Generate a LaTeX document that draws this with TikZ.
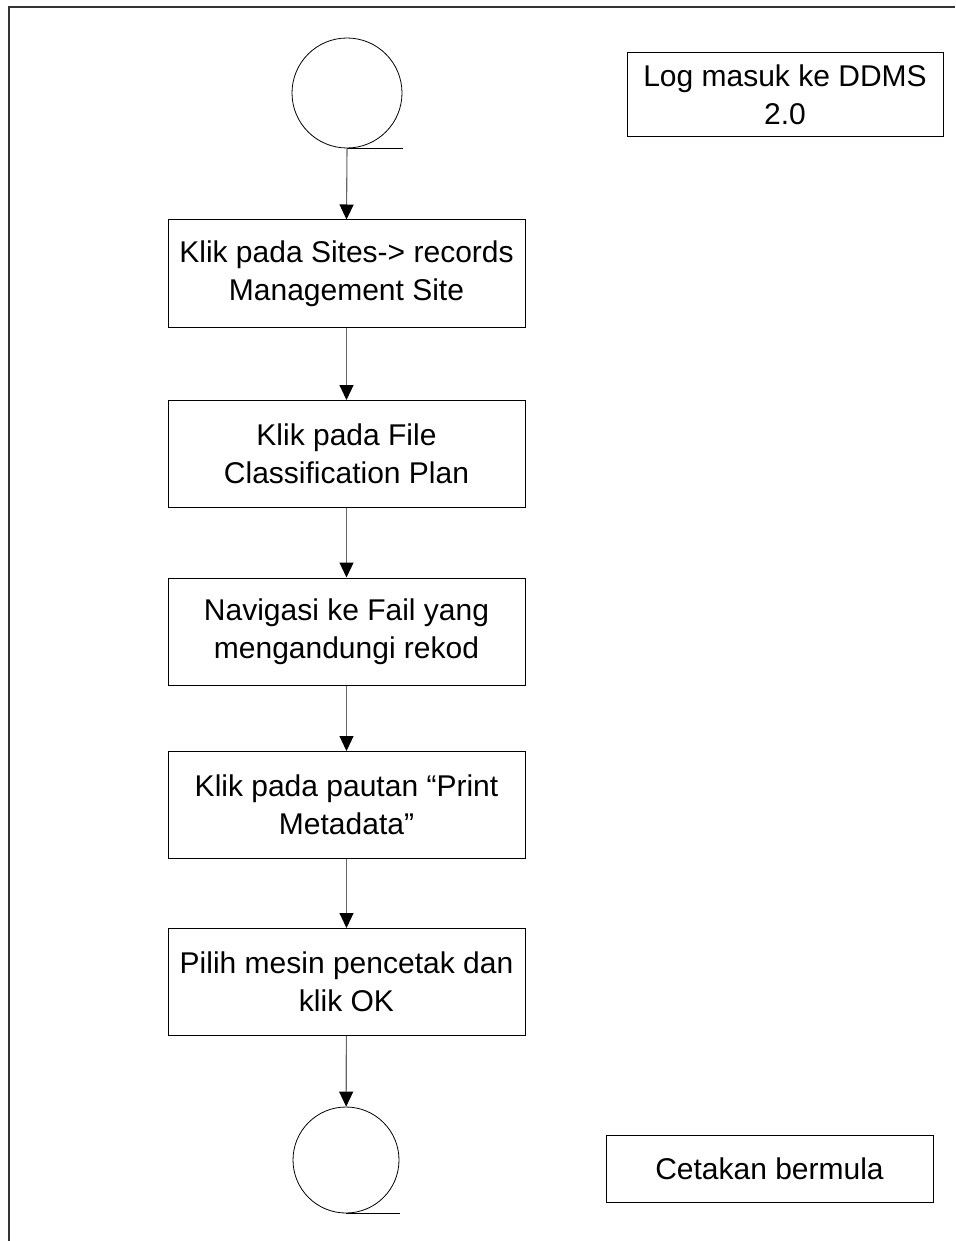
\documentclass[tikz,border=0pt]{standalone}
\usepackage{fontspec}
\setmainfont{Liberation Sans}
\usetikzlibrary{arrows.meta}
\tikzset{
  stepbox/.style={draw, line width=1pt, minimum width=357pt, minimum height=107pt, inner sep=0pt, align=center, font=\fontsize{30}{38}\selectfont},
  notebox/.style={draw, line width=1pt, inner sep=0pt, align=center, font=\fontsize{30}{38}\selectfont},
  tape/.style={draw, circle, line width=0.8pt, minimum size=110pt, inner sep=0pt},
  flow/.style={->, line width=1.1pt, draw=black!60}
}
\begin{document}
\begin{tikzpicture}[x=1pt, y=-1pt, >={Triangle[length=15pt, width=14pt, color=black]}]
  \useasboundingbox (0,0) rectangle (955,1241);
  \draw[line width=1.2pt, black!80] (9,1241) -- (9,7) -- (955,7);
  % start and end tapes
  \node[tape] (start) at (347,93) {};
  \draw[line width=0.8pt] (start.south) -- ++(56,0);
  \node[tape, minimum size=106pt] (stop) at (346,1160) {};
  \draw[line width=0.8pt] (stop.south) -- ++(54,0);
  % steps
  \node[stepbox] (s1) at (346.5,273.5) {Klik pada Sites-> records\\Management Site};
  \node[stepbox] (s2) at (346.5,454) {Klik pada File\\Classification Plan};
  \node[stepbox] (s3) at (346.5,631.5) {Navigasi ke Fail yang\\mengandungi rekod};
  \node[stepbox] (s4) at (346.5,805) {Klik pada pautan “Print\\Metadata”};
  \node[stepbox] (s5) at (346.5,982) {Pilih mesin pencetak dan\\klik OK};
  % notes
  \node[notebox, minimum width=316pt, minimum height=84pt] (login) at (785,95) {Log masuk ke DDMS\\2.0};
  \node[notebox, minimum width=327pt, minimum height=67pt] (printing) at (769.5,1168.5) {Cetakan bermula};
  \draw[flow] (start.south) -- (s1.north);
  \draw[flow] (s1) -- (s2);
  \draw[flow] (s2) -- (s3);
  \draw[flow] (s3) -- (s4);
  \draw[flow] (s4) -- (s5);
  \draw[flow] (s5) -- (stop);
\end{tikzpicture}
\end{document}
